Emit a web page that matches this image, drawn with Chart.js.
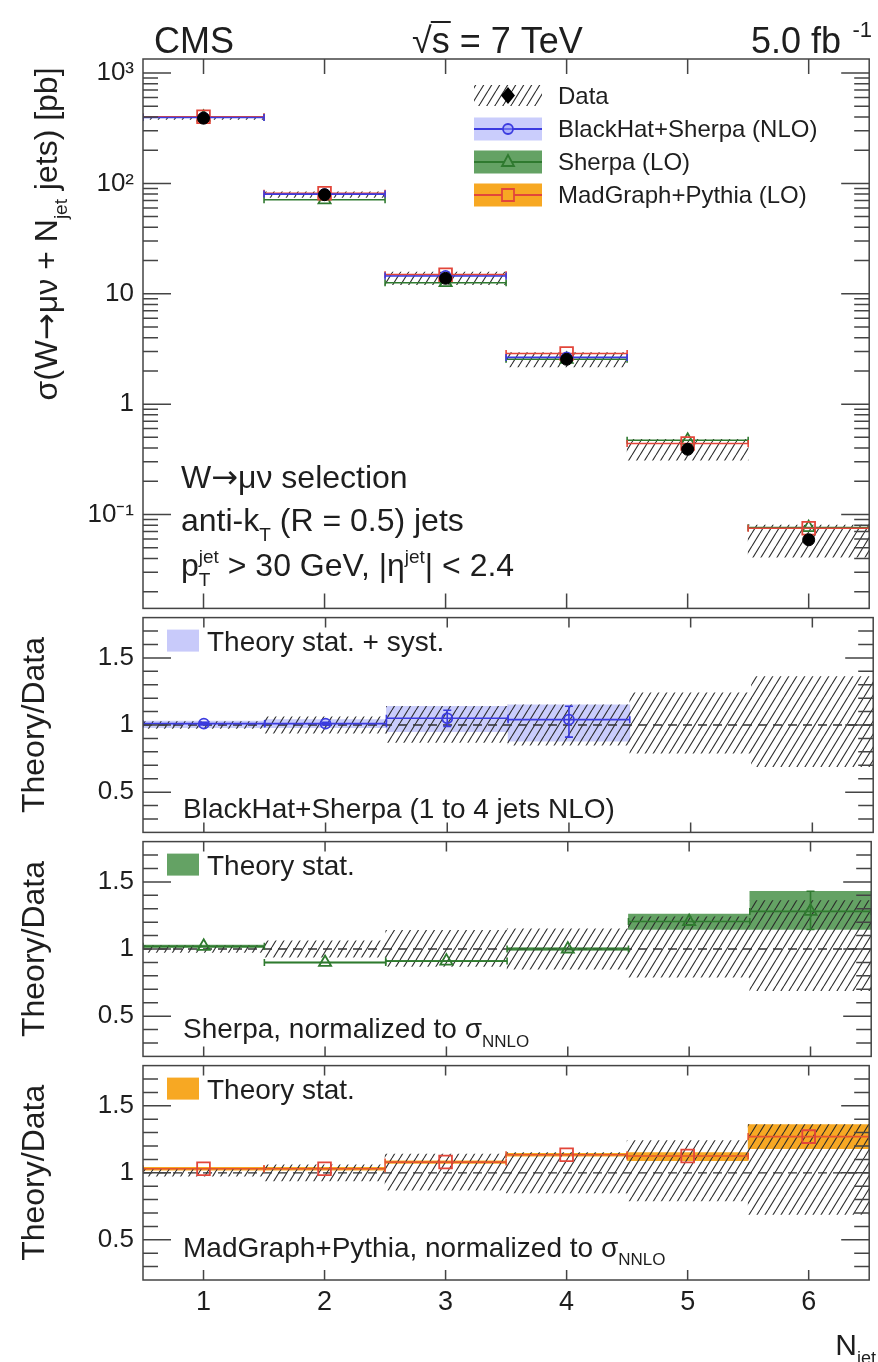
<!DOCTYPE html>
<html>
<head>
<meta charset="utf-8">
<script src="https://cdn.jsdelivr.net/npm/chart.js@4.4.0/dist/chart.umd.min.js"></script>
<style>
  html, body { margin: 0; padding: 0; background: #fff; width: 878px; height: 1362px; overflow: hidden; }
  canvas { position: absolute; left: 0; }
</style>
</head>
<body>
<canvas id="main"></canvas>
<canvas id="r1"></canvas>
<canvas id="r2"></canvas>
<canvas id="r3"></canvas>
<script>
const FONT = '"Liberation Sans", Arial, Helvetica, sans-serif';
const SYM = '"DejaVu Sans", sans-serif';
const INK = '#1e1e1e';

// values
const nJet = [1, 2, 3, 4, 5, 6];
const binEdges = [0.5, 1.5, 2.5, 3.5, 4.5, 5.5, 6.5];
const xTickLabels = ['1', '2', '3', '4', '5', '6'];

const dataXsec = [390, 79, 13.8, 2.55, 0.39, 0.059];
const dataXsecLo = [380, 74.5, 12.1, 2.17, 0.31, 0.041];
const dataXsecHi = [400, 84, 15.7, 2.93, 0.48, 0.080];
const blackhatXsec = [395, 80, 14.5, 2.65, null, null];
const sherpaXsec = [398, 71, 12.6, 2.55, 0.47, 0.076];
const madgraphXsec = [402, 81.5, 14.9, 2.88, 0.44, 0.075];

const dataRatioLo = [0.975, 0.94, 0.87, 0.85, 0.79, 0.69];
const dataRatioHi = [1.025, 1.06, 1.14, 1.15, 1.24, 1.36];

const blackhatRatio = [1.01, 1.01, 1.05, 1.04, null, null];
const blackhatBandLo = [0.98, 0.98, 0.95, 0.88, null, null];
const blackhatBandHi = [1.03, 1.04, 1.14, 1.15, null, null];
const blackhatErrLo = [1.0, 1.0, 0.99, 0.91, null, null];
const blackhatErrHi = [1.02, 1.02, 1.11, 1.14, null, null];

const sherpaRatio = [1.02, 0.90, 0.91, 1.0, 1.205, 1.28];
const sherpaBandLo = [1.01, 0.895, 0.905, 0.99, 1.145, 1.145];
const sherpaBandHi = [1.03, 0.905, 0.915, 1.01, 1.26, 1.43];

const madgraphRatio = [1.03, 1.03, 1.08, 1.135, 1.125, 1.27];
const madgraphBandLo = [1.02, 1.02, 1.07, 1.125, 1.09, 1.18];
const madgraphBandHi = [1.04, 1.04, 1.09, 1.145, 1.15, 1.36];

const logTicks = [0.1, 1, 10, 100, 1000];
const logTickLabels = ['10\u207B\u00B9', '1', '10', '10\u00B2', '10\u00B3'];
const ratioTicks = [0.5, 1, 1.5];
const ratioTickLabels = ['0.5', '1', '1.5'];

// colours
const BLUE = '#3b3be0', BLUE_BAND = 'rgba(150,155,250,0.5)';
const GREEN = '#2f7a2f', GREEN_BAND = '#64a264';
const RED = '#e2463a', ORANGE_BAND = '#f7a823';

function makeHatch() {
  const c = document.createElement('canvas');
  c.width = 8; c.height = 13;
  const g = c.getContext('2d');
  g.strokeStyle = '#2a2a2a';
  g.lineWidth = 1.1;
  for (let k = -1; k <= 1; k++) {
    g.beginPath(); g.moveTo(k * 8, 13); g.lineTo(k * 8 + 8, 0); g.stroke();
  }
  return g.createPattern(c, 'repeat');
}
const HATCH = makeHatch();

const pts = ys => nJet.map((n, i) => ({x: n, y: ys[i]})).filter(p => p.y != null);
const spans = (lo, hi) => nJet.map((n, i) => ({x: n, y: [lo[i], hi[i]]})).filter(p => p.y[0] != null);

function bandSet(lo, hi, color, order, extra) {
  return Object.assign({
    type: 'bar', data: spans(lo, hi), backgroundColor: color, borderWidth: 0,
    grouped: false, barPercentage: 1, categoryPercentage: 1, order
  }, extra || {});
}
function markerSet(vals, color, style, radius, order, extra) {
  return Object.assign({
    type: 'line', data: pts(vals), showLine: false, borderColor: color,
    backgroundColor: 'rgba(0,0,0,0)', pointStyle: style, pointRadius: radius,
    pointBorderWidth: 1.8, binLine: true, order
  }, extra || {});
}

// parts: plain strings, {t, f} for a font override, {sub, sup} for scripts
function rich(ctx, x, y, parts, size, align) {
  const small = Math.round(size * 0.6);
  const w = p => {
    if (typeof p === 'string') { ctx.font = size + 'px ' + FONT; return ctx.measureText(p).width; }
    if (p.t) { ctx.font = size + 'px ' + p.f; return ctx.measureText(p.t).width; }
    ctx.font = small + 'px ' + FONT;
    return Math.max(p.sub ? ctx.measureText(p.sub).width : 0, p.sup ? ctx.measureText(p.sup).width : 0);
  };
  const total = parts.reduce((s, p) => s + w(p), 0);
  let cx = align === 'center' ? x - total / 2 : align === 'right' ? x - total : x;
  ctx.textAlign = 'left';
  ctx.textBaseline = 'alphabetic';
  ctx.fillStyle = INK;
  parts.forEach(p => {
    const pw = w(p);
    if (typeof p === 'string') {
      ctx.font = size + 'px ' + FONT;
      ctx.fillText(p, cx, y);
    } else if (p.t) {
      ctx.font = size + 'px ' + p.f;
      ctx.fillText(p.t, cx, y);
    } else {
      ctx.font = small + 'px ' + FONT;
      if (p.sub) ctx.fillText(p.sub, cx, y + size * 0.3);
      if (p.sup) ctx.fillText(p.sup, cx, y - size * 0.42);
    }
    cx += pw;
  });
}
const ARROW = {t: '\u2192', f: SYM};

function drawBinLines(chart, meta, ds) {
  const ctx = chart.ctx, a = chart.chartArea;
  const xs = chart.scales.x, ys = chart.scales[meta.yAxisID];
  ctx.save();
  ctx.beginPath(); ctx.rect(a.left, a.top, a.right - a.left, a.bottom - a.top); ctx.clip();
  ctx.strokeStyle = ds.lineColor || ds.borderColor;
  ctx.lineWidth = ds.lineW || 1.6;
  ds.data.forEach(p => {
    const i = nJet.indexOf(p.x);
    const x0 = xs.getPixelForValue(binEdges[i]), x1 = xs.getPixelForValue(binEdges[i + 1]);
    const y = ys.getPixelForValue(p.y);
    ctx.beginPath();
    ctx.moveTo(x0, y); ctx.lineTo(x1, y);
    ctx.moveTo(x0, y - 3.5); ctx.lineTo(x0, y + 3.5);
    ctx.moveTo(x1, y - 3.5); ctx.lineTo(x1, y + 3.5);
    if (ds.errLo && ds.errLo[i] != null) {
      const xc = xs.getPixelForValue(p.x);
      const yl = ys.getPixelForValue(ds.errLo[i]), yh = ys.getPixelForValue(ds.errHi[i]);
      ctx.moveTo(xc, yl); ctx.lineTo(xc, yh);
      ctx.moveTo(xc - 4, yl); ctx.lineTo(xc + 4, yl);
      ctx.moveTo(xc - 4, yh); ctx.lineTo(xc + 4, yh);
    }
    ctx.stroke();
  });
  ctx.restore();
}

function drawRefLine(chart, yID) {
  const ctx = chart.ctx, a = chart.chartArea, y = chart.scales[yID].getPixelForValue(1);
  ctx.save();
  ctx.strokeStyle = '#333'; ctx.lineWidth = 1.3; ctx.setLineDash([9, 6]);
  ctx.beginPath(); ctx.moveTo(a.left, y); ctx.lineTo(a.right, y); ctx.stroke();
  ctx.restore();
}

function drawFrame(chart, cfg) {
  const ctx = chart.ctx, a = chart.chartArea, ys = chart.scales.y, xs = chart.scales.x;
  ctx.save();
  ctx.strokeStyle = '#444'; ctx.lineWidth = 1.5;
  ctx.strokeRect(a.left, a.top, a.right - a.left, a.bottom - a.top);
  ctx.beginPath();
  const tick = (v, len) => {
    const y = ys.getPixelForValue(v);
    if (y < a.top + 1 || y > a.bottom - 1) return;
    ctx.moveTo(a.left, y); ctx.lineTo(a.left + len, y);
    ctx.moveTo(a.right, y); ctx.lineTo(a.right - len, y);
  };
  if (cfg.log) {
    for (let e = -2; e <= 3; e++) for (let m = 1; m <= 9; m++) tick(m * Math.pow(10, e), m === 1 ? 28 : 15);
  } else {
    for (let k = 2; k <= 18; k++) tick(k / 10, k % 5 === 0 ? 28 : 15);
  }
  nJet.forEach(n => {
    const x = xs.getPixelForValue(n);
    ctx.moveTo(x, a.top); ctx.lineTo(x, a.top + cfg.xTick);
    ctx.moveTo(x, a.bottom); ctx.lineTo(x, a.bottom - cfg.xTick);
  });
  ctx.stroke();
  ctx.restore();
}

function makePanelPlugin(cfg) {
  return {
    id: 'panel_' + cfg.name,
    beforeDatasetDraw(chart, args) {
      const ds = chart.data.datasets[args.index];
      if (ds.binLine) drawBinLines(chart, args.meta, ds);
    },
    afterDatasetDraw(chart, args) {
      const ds = chart.data.datasets[args.index];
      if (ds.refAfter) drawRefLine(chart, args.meta.yAxisID);
    },
    afterDraw(chart) {
      drawFrame(chart, cfg);
      cfg.decorate(chart.ctx, chart.chartArea, cfg.top);
    }
  };
}

function yAxis(log) {
  return {
    type: log ? 'logarithmic' : 'linear',
    min: log ? 0.0141 : 0.2,
    max: log ? 1340 : 1.8,
    beginAtZero: false,
    afterFit: s => { s.width = 143; },
    afterBuildTicks: s => { s.ticks = (log ? logTicks : ratioTicks).map(v => ({value: v})); },
    grid: {display: false, drawTicks: false},
    border: {display: false},
    ticks: {
      padding: 9, color: INK, font: {family: FONT, size: 26},
      callback: (v, i) => (log ? logTickLabels : ratioTickLabels)[i]
    }
  };
}

function makePanel(id, areaTop, areaBottom, padTop, padBottom, showX, datasets, cfg) {
  const cv = document.getElementById(id);
  const top = areaTop - padTop;
  const xh = showX ? 85 : 0;
  const h = areaBottom - top + xh + padBottom;
  cv.width = 880; cv.height = h;
  cv.style.top = top + 'px';
  cv.style.width = '880px'; cv.style.height = h + 'px';
  cfg.top = top;
  const x = {
    type: 'linear', min: 0.5, max: 6.5, offset: false, display: showX,
    afterBuildTicks: s => { s.ticks = nJet.map(v => ({value: v})); },
    grid: {display: false, drawTicks: false, offset: false},
    border: {display: false}
  };
  if (showX) {
    x.afterFit = s => { s.height = xh; };
    x.ticks = {padding: 6, color: INK, font: {family: FONT, size: 27}, maxRotation: 0, autoSkip: false,
      callback: (v, i) => xTickLabels[i]};
  }
  return new Chart(cv, {
    type: 'bar',
    data: {datasets},
    options: {
      responsive: false, animation: false, devicePixelRatio: 1,
      layout: {padding: {top: padTop, bottom: padBottom, left: 0, right: 1}},
      plugins: {legend: {display: false}, tooltip: {enabled: false}},
      scales: {x, y: yAxis(cfg.log)}
    },
    plugins: [makePanelPlugin(cfg)]
  });
}

// ---------- main panel ----------
makePanel('main', 59, 613, 59, 20, false, [
  bandSet(dataXsecLo, dataXsecHi, HATCH, 10),
  markerSet(sherpaXsec, GREEN, 'triangle', 7, 6),
  markerSet(madgraphXsec, RED, 'rect', 9, 5),
  markerSet(blackhatXsec, BLUE, 'circle', 5, 4),
  {type: 'line', data: pts(dataXsec), showLine: false, pointStyle: 'circle', pointRadius: 6,
   backgroundColor: '#000', borderColor: '#000', order: 1}
], {
  name: 'main', log: true, xTick: 15,
  decorate(ctx, a, top) {
    // header
    ctx.fillStyle = INK;
    ctx.font = '36px ' + FONT; ctx.textAlign = 'left'; ctx.textBaseline = 'alphabetic';
    ctx.fillText('CMS', 154, 53);
    ctx.fillText('\u221As = 7 TeV', 412, 53);
    const wr = ctx.measureText('\u221A').width, ws = ctx.measureText('s').width;
    ctx.strokeStyle = INK; ctx.lineWidth = 2;
    ctx.beginPath(); ctx.moveTo(412 + wr - 1, 53 - 31); ctx.lineTo(412 + wr + ws + 1, 53 - 31); ctx.stroke();
    ctx.textAlign = 'right';
    ctx.fillText('5.0 fb', 841, 53);
    ctx.font = '22px ' + FONT;
    ctx.fillText('-1', 872, 37);
    ctx.textAlign = 'left';

    // legend
    const lx = 474, lw = 68, cx = lx + lw / 2;
    ctx.fillStyle = HATCH; ctx.fillRect(lx, 85, lw, 21);
    ctx.fillStyle = '#000';
    ctx.beginPath(); ctx.moveTo(cx, 87); ctx.lineTo(cx + 7, 95.5); ctx.lineTo(cx, 104); ctx.lineTo(cx - 7, 95.5); ctx.closePath(); ctx.fill();
    const rows = [
      [129, BLUE_BAND, BLUE, 'circle'],
      [162, GREEN_BAND, GREEN, 'triangle'],
      [195, ORANGE_BAND, RED, 'rect']
    ];
    rows.forEach(([y, band, line, mk]) => {
      ctx.fillStyle = band; ctx.fillRect(lx, y - 11.5, lw, 23);
      ctx.strokeStyle = line; ctx.lineWidth = 1.8;
      ctx.beginPath(); ctx.moveTo(lx, y); ctx.lineTo(lx + lw, y); ctx.stroke();
      ctx.beginPath();
      if (mk === 'circle') ctx.arc(cx, y, 5, 0, Math.PI * 2);
      if (mk === 'triangle') { ctx.moveTo(cx, y - 7); ctx.lineTo(cx + 6, y + 4); ctx.lineTo(cx - 6, y + 4); ctx.closePath(); }
      if (mk === 'rect') ctx.rect(cx - 6, y - 6, 12, 12);
      ctx.fillStyle = band; ctx.fill(); ctx.stroke();
    });
    rich(ctx, 558, 104, ['Data'], 24);
    rich(ctx, 558, 137, ['BlackHat+Sherpa (NLO)'], 24);
    rich(ctx, 558, 170, ['Sherpa (LO)'], 24);
    rich(ctx, 558, 203, ['MadGraph+Pythia (LO)'], 24);

    // selection text
    rich(ctx, 181, 488, ['W', ARROW, '\u03BC\u03BD selection'], 32);
    rich(ctx, 181, 531, ['anti-k', {sub: 'T'}, ' (R = 0.5) jets'], 32);
    rich(ctx, 181, 576, ['p', {sub: 'T', sup: 'jet'}, ' > 30 GeV, |\u03B7', {sup: 'jet'}, '| < 2.4'], 32);

    // y title
    ctx.save();
    ctx.translate(57, 234); ctx.rotate(-Math.PI / 2);
    rich(ctx, 0, 0, ['\u03C3(W', ARROW, '\u03BC\u03BD + N', {sub: 'jet'}, ' jets) [pb]'], 32, 'center');
    ctx.restore();
  }
});

// ---------- ratio panels ----------
function ratioDecor(boxColor, boxText, bottomParts, bottomOffset, extra) {
  return (ctx, a, top) => {
    ctx.fillStyle = boxColor; ctx.fillRect(167, a.top + 12, 32, 22);
    rich(ctx, 207, a.top + 33, [boxText], 28);
    rich(ctx, 183, a.bottom - bottomOffset, bottomParts, 28);
    ctx.save();
    ctx.translate(44, (a.top + a.bottom) / 2); ctx.rotate(-Math.PI / 2);
    rich(ctx, 0, 0, ['Theory/Data'], 32, 'center');
    ctx.restore();
    if (extra) extra(ctx, a, top);
  };
}

makePanel('r1', 613, 837, 20, 20, false, [
  bandSet(blackhatBandLo, blackhatBandHi, BLUE_BAND, 5),
  bandSet(dataRatioLo, dataRatioHi, HATCH, 4, {refAfter: true}),
  markerSet(blackhatRatio, BLUE, 'circle', 5, 1, {errLo: blackhatErrLo, errHi: blackhatErrHi})
], {
  name: 'r1', log: false, xTick: 10,
  decorate: ratioDecor('rgb(200,202,250)', 'Theory stat. + syst.', ['BlackHat+Sherpa (1 to 4 jets NLO)'], 14)
});

makePanel('r2', 837, 1061, 20, 20, false, [
  bandSet(sherpaBandLo, sherpaBandHi, GREEN_BAND, 5),
  bandSet(dataRatioLo, dataRatioHi, HATCH, 4, {refAfter: true}),
  markerSet(sherpaRatio, GREEN, 'triangle', 7, 1, {errLo: [null, null, null, null, null, sherpaBandLo[5]], errHi: [null, null, null, null, null, sherpaBandHi[5]]})
], {
  name: 'r2', log: false, xTick: 10,
  decorate: ratioDecor(GREEN_BAND, 'Theory stat.', ['Sherpa, normalized to \u03C3', {sub: 'NNLO'}], 18)
});

makePanel('r3', 1061, 1280, 20, 0, true, [
  bandSet(madgraphBandLo, madgraphBandHi, ORANGE_BAND, 5),
  bandSet(dataRatioLo, dataRatioHi, HATCH, 4, {refAfter: true}),
  markerSet(madgraphRatio, RED, 'rect', 9, 1, {lineColor: '#e5552e'})
], {
  name: 'r3', log: false, xTick: 10,
  decorate: ratioDecor(ORANGE_BAND, 'Theory stat.', ['MadGraph+Pythia, normalized to \u03C3', {sub: 'NNLO'}], 23,
    (ctx, a, top) => {
      rich(ctx, 876, 1355 - top, ['N', {sub: 'jet'}], 30, 'right');
    })
});
</script>
</body>
</html>
